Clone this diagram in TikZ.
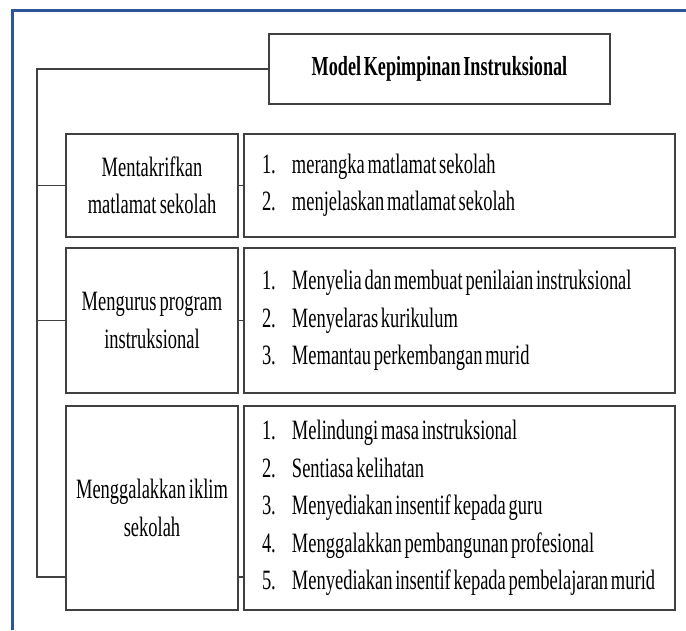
\documentclass[tikz,border=0pt]{standalone}
\usepackage{fontspec}
\setmainfont{Liberation Serif}[FakeStretch=0.66,WordSpace=0.6]
\usepackage{tikz}
\usetikzlibrary{shadows}
\definecolor{frameblue}{RGB}{47,85,151}
\definecolor{boxline}{RGB}{64,64,64}
\newcommand{\litem}[2]{\makebox[30pt][l]{#1}#2}

\begin{document}
\begin{tikzpicture}[x=1pt,y=-1pt,
    box/.style={draw=boxline,line width=1.3pt,fill=white,inner sep=0pt,
        drop shadow={shadow xshift=1pt,shadow yshift=-1.2pt,opacity=0.35},
        font=\fontsize{28}{37.5}\selectfont,
        execute at begin node={\spaceskip=0pt\xspaceskip=0pt\relax}},
    leftbox/.style={box,minimum width=172pt,text width=168pt,align=center},
    listbox/.style={box,minimum width=431pt,inner xsep=18pt,text width=395pt,align=left},
    link/.style={draw=boxline,line width=1.3pt}]
    \useasboundingbox (0,0) rectangle (686,630);
    % Frame
    \draw[frameblue,line width=3pt] (12,630) -- (12,10) -- (686,10);

    % Title
    \node[box,minimum width=341pt,minimum height=70pt,font=\fontsize{27.5}{33}\selectfont\bfseries] (title) at (439.5,69) {Model Kepimpinan Instruksional};

    % Row 1
    \node[leftbox,minimum height=103pt] (l1) at (152,185.5) {Mentakrifkan\\matlamat sekolah};
    \node[listbox,minimum height=103pt] (r1) at (459.5,185.5) {\litem{1.}{merangka matlamat sekolah}\\\litem{2.}{menjelaskan matlamat sekolah}};
    % Row 2
    \node[leftbox,minimum height=145pt] (l2) at (152,320.5) {Mengurus program\\instruksional};
    \node[listbox,minimum height=145pt] (r2) at (459.5,320.5) {\litem{1.}{Menyelia dan membuat penilaian instruksional}\\\litem{2.}{Menyelaras kurikulum}\\\litem{3.}{Memantau perkembangan murid}};
    % Row 3
    \node[leftbox,minimum height=204pt] (l3) at (152,508) {Menggalakkan iklim\\sekolah};
    \node[listbox,minimum height=204pt] (r3) at (459.5,508) {\litem{1.}{Melindungi masa instruksional}\\\litem{2.}{Sentiasa kelihatan}\\\litem{3.}{Menyediakan insentif kepada guru}\\\litem{4.}{Menggalakkan pembangunan profesional}\\\litem{5.}{Menyediakan insentif kepada pembelajaran murid}};

    % Connectors
    \coordinate (top) at (37,69);
    \coordinate (bot) at (37,577);
    \draw[link] (title.west) -- (top) -- (bot) -- (bot -| l3.west);
    \draw[link] (l1.west -| top) -- (l1.west);
    \draw[link] (l2.west -| top) -- (l2.west);
    \draw[link] (l1.east) -- (r1.west);
    \draw[link] (l2.east) -- (r2.west);
    \draw[link] (bot -| l3.east) -- (bot -| r3.west);
\end{tikzpicture}
\end{document}
